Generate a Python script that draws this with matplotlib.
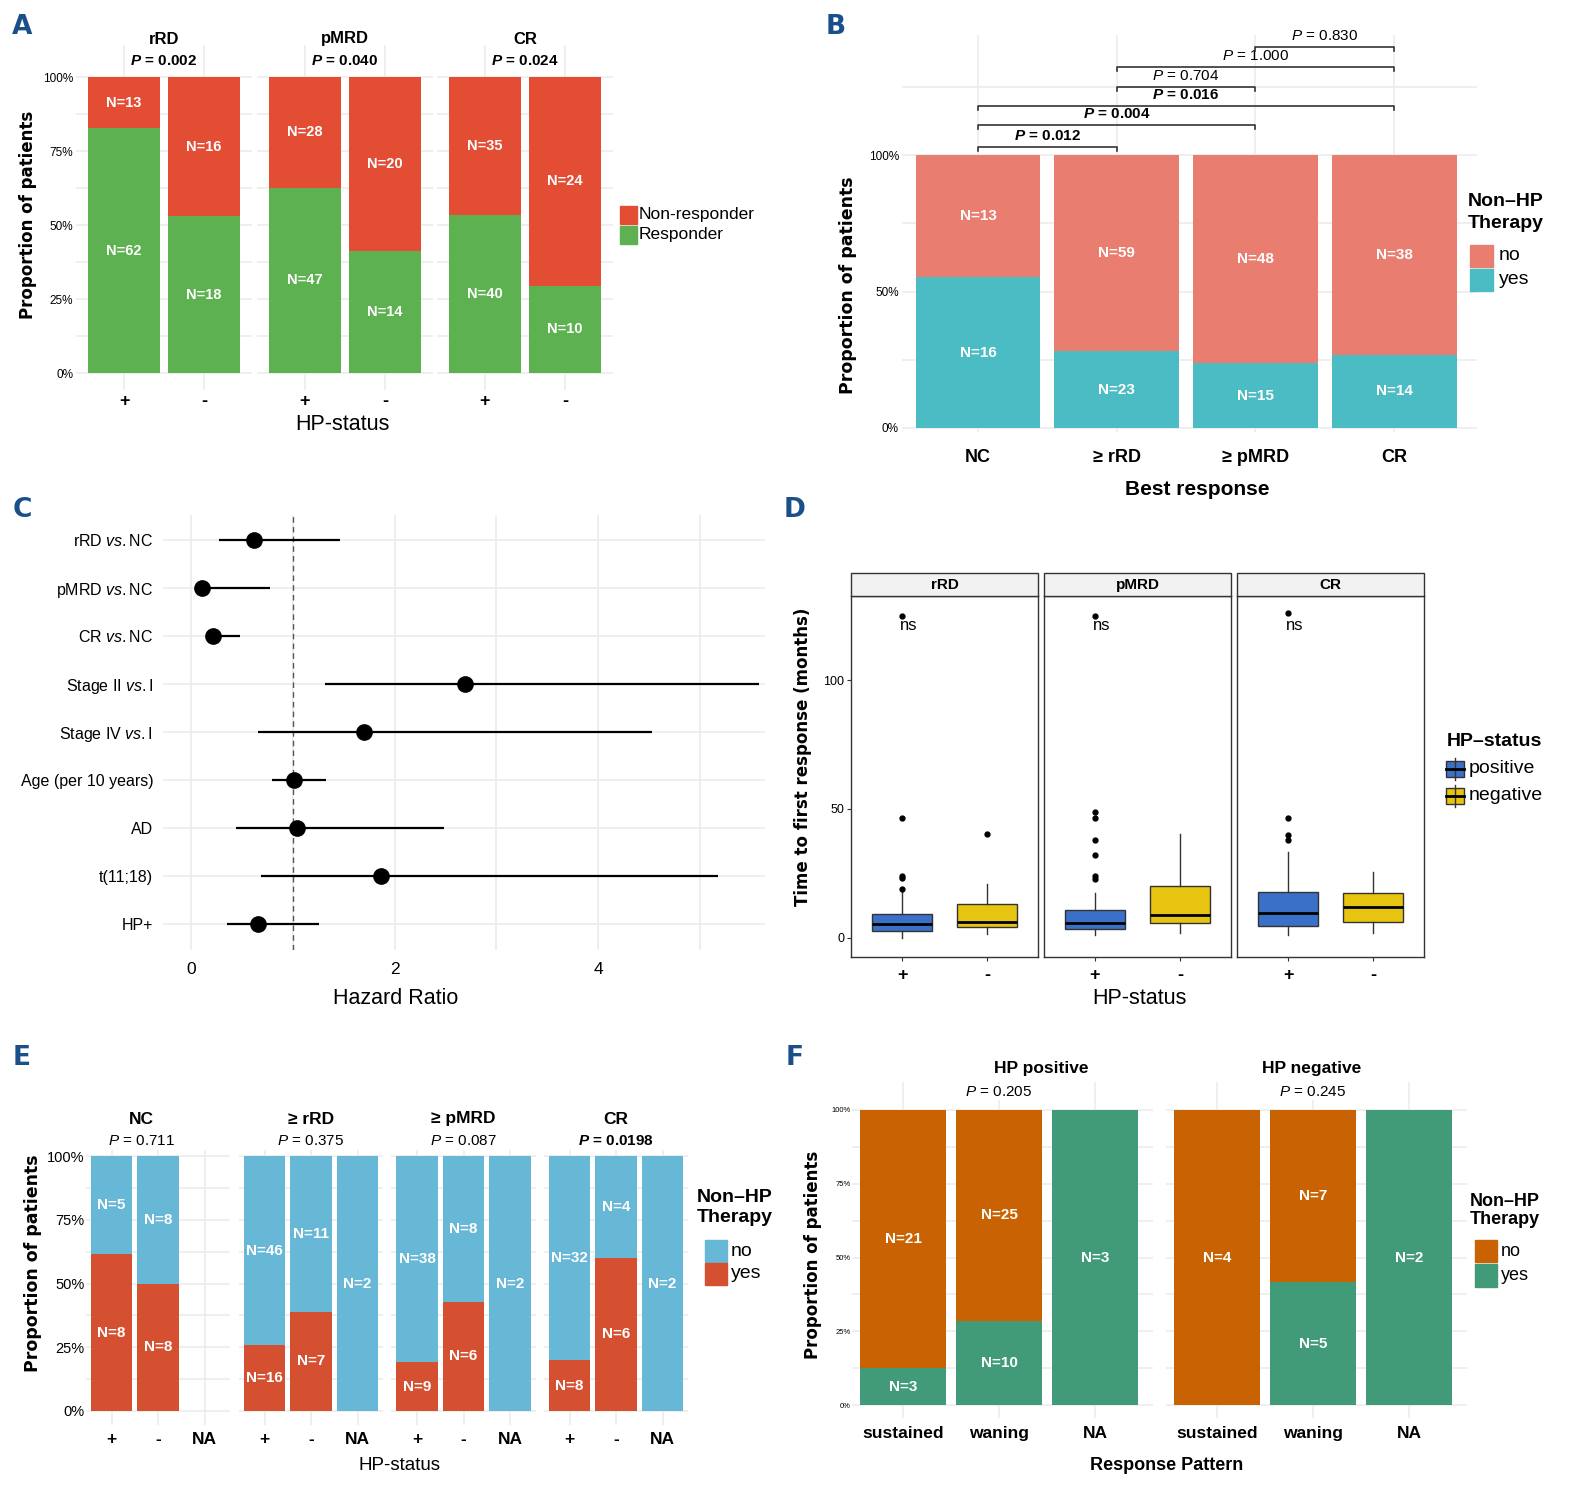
import matplotlib
matplotlib.use("Agg")
import matplotlib.pyplot as plt
from matplotlib import font_manager
from matplotlib.patches import Rectangle
from matplotlib.lines import Line2D

# ---- data ----
a_facets = ["rRD", "pMRD", "CR"]
a_pvals = ["0.002", "0.040", "0.024"]
a_status = ["+", "-"]
a_responder = [[62, 18], [47, 14], [40, 10]]
a_nonresponder = [[13, 16], [28, 20], [35, 24]]

b_cats = ["NC", "≥ rRD", "≥ pMRD", "CR"]
b_yes = [16, 23, 15, 14]
b_no = [13, 59, 48, 38]
b_pairs = [(0, 1), (0, 2), (0, 3), (1, 2), (1, 3), (2, 3)]
b_pvals = ["0.012", "0.004", "0.016", "0.704", "1.000", "0.830"]
b_sig = [True, True, True, False, False, False]

c_terms = ["rRD $\\mathit{vs.}$NC", "pMRD $\\mathit{vs.}$NC", "CR $\\mathit{vs.}$NC",
           "Stage II $\\mathit{vs.}$I", "Stage IV $\\mathit{vs.}$I", "Age (per 10 years)",
           "AD", "t(11;18)", "HP+"]
c_hr = [0.62, 0.11, 0.22, 2.69, 1.70, 1.01, 1.04, 1.87, 0.66]
c_lo = [0.275, 0.04, 0.16, 1.32, 0.66, 0.80, 0.44, 0.69, 0.35]
c_hi = [1.465, 0.78, 0.48, 5.58, 4.53, 1.33, 2.49, 5.18, 1.26]

d_facets = ["rRD", "pMRD", "CR"]
d_status = ["+", "-"]
d_q1 = [[2.6, 4.1], [3.2, 5.6], [4.5, 6.1]]
d_med = [[5.2, 6.2], [5.8, 8.8], [9.7, 12.0]]
d_q3 = [[9.2, 13.2], [10.7, 19.9], [17.7, 17.2]]
d_wlo = [[0.0, 1.3], [1.0, 1.9], [1.0, 1.9]]
d_whi = [[17.6, 20.8], [17.3, 40.4], [33.3, 25.3]]
d_out = [[[18.9, 23.3, 24.0, 46.5, 125], [40.4]],
         [[22.7, 24.0, 32.2, 38.0, 46.5, 48.6, 125], []],
         [[38.0, 39.8, 46.5, 126], []]]

e_facets = ["NC", "≥ rRD", "≥ pMRD", "CR"]
e_pvals = ["0.711", "0.375", "0.087", "0.0198"]
e_sig = [False, False, False, True]
e_status = ["+", "-", "NA"]
e_yes = [[8, 8, 0], [16, 7, 0], [9, 6, 0], [8, 6, 0]]
e_no = [[5, 8, 0], [46, 11, 2], [38, 8, 2], [32, 4, 2]]

f_facets = ["HP positive", "HP negative"]
f_pvals = ["0.205", "0.245"]
f_patterns = ["sustained", "waning", "NA"]
f_yes = [[3, 10, 3], [0, 5, 2]]
f_no = [[21, 25, 0], [4, 7, 0]]

# ---- style ----
names = {f.name for f in font_manager.fontManager.ttflist}
fam = "Liberation Sans Narrow" if "Liberation Sans Narrow" in names else "Liberation Sans"
plt.rcParams["font.family"] = [fam, "DejaVu Sans"]
plt.rcParams["mathtext.fontset"] = "custom"
plt.rcParams["mathtext.rm"] = fam
plt.rcParams["mathtext.it"] = fam + ":italic"
plt.rcParams["mathtext.bf"] = fam + ":bold"
plt.rcParams["mathtext.bfit"] = fam + ":italic:bold"

GRID = "#EBEBEB"
LETTER = "#1B4F8A"
A_GREEN, A_RED = "#5EB151", "#E34D34"
B_SALMON, B_TEAL = "#E97D70", "#4CBCC4"
D_BLUE, D_YELLOW = "#3A70C8", "#E6C40F"
E_BLUE, E_RED = "#67B7D6", "#D55030"
F_ORANGE, F_GREEN = "#C96203", "#419B78"

W, H = 1575, 1494
fig = plt.figure(figsize=(W / 100, H / 100), dpi=100)


def fx(x):
    return x / W


def fy(y):
    return 1 - y / H


def add_ax(x0, y0, x1, y1):
    return fig.add_axes([fx(x0), fy(y1), (x1 - x0) / W, (y1 - y0) / H])


def ftext(x, y, s, **kw):
    kw.setdefault("ha", "center")
    kw.setdefault("va", "center")
    return fig.text(fx(x), fy(y), s, **kw)


def frect(x0, y0, x1, y1, **kw):
    fig.add_artist(Rectangle((fx(x0), fy(y1)), (x1 - x0) / W, (y1 - y0) / H,
                             transform=fig.transFigure, **kw))


def fline(x0, y0, x1, y1, **kw):
    fig.add_artist(Line2D([fx(x0), fx(x1)], [fy(y0), fy(y1)], transform=fig.transFigure, **kw))


def pstr(val, bold):
    if bold:
        return "$\\mathbfit{P}$ = " + val, "bold"
    return "$\\mathit{P}$ = " + val, "normal"


def bar_facet(c0, step, top, bot, zero, full, xlo, xhi):
    ax = add_ax(c0 + xlo * step, top, c0 + xhi * step, bot)
    sc = zero - full
    ax.set_xlim(xlo, xhi)
    ax.set_ylim(-(bot - zero) / sc, 1 + (full - top) / sc)
    for s in ax.spines.values():
        s.set_visible(False)
    ax.tick_params(length=0)
    ax.set_facecolor("none")
    return ax


def grid(ax, levels, n):
    x0, x1 = ax.get_xlim()
    y0, y1 = ax.get_ylim()
    ax.hlines(levels, x0, x1, color=GRID, lw=1.1, zorder=0)
    ax.vlines(range(n), y0, y1, color=GRID, lw=1.1, zorder=0)


def stack(ax, lower, upper, c_low, c_up, fs):
    for i, (l, u) in enumerate(zip(lower, upper)):
        t = l + u
        if t == 0:
            continue
        fl, fu = l / t, u / t
        ax.bar(i, fl, 0.9, color=c_low, zorder=2)
        ax.bar(i, fu, 0.9, bottom=fl, color=c_up, zorder=2)
        if l:
            ax.text(i, fl / 2, f"N={l}", color="white", fontweight="bold",
                    fontsize=fs, ha="center", va="center", zorder=3)
        if u:
            ax.text(i, fl + fu / 2, f"N={u}", color="white", fontweight="bold",
                    fontsize=fs, ha="center", va="center", zorder=3)


eighths = [i / 8 for i in range(9)]

# ---- panel letters ----
for lab, x, y in [("A", 22, 27), ("B", 836, 27), ("C", 22, 510),
                  ("D", 795, 510), ("E", 22, 1058), ("F", 795, 1058)]:
    ftext(x, y, lab, fontsize=19, fontweight="bold", color=LETTER, family="DejaVu Sans")

# ---- A ----
for k, c0 in enumerate([124, 305, 485]):
    ax = bar_facet(c0, 80, 45, 390, 373, 77, -0.6, 1.6)
    grid(ax, eighths, 2)
    stack(ax, a_responder[k], a_nonresponder[k], A_GREEN, A_RED, 10.5)
    ax.set_xticks(range(2), a_status, fontweight="bold", fontsize=13)
    ax.tick_params(axis="x", pad=2)
    if k == 0:
        ax.set_yticks([0, .25, .5, .75, 1], ["0%", "25%", "50%", "75%", "100%"], fontsize=8.5)
        ax.tick_params(axis="y", pad=2)
    else:
        ax.set_yticks([])
    ftext(c0 + 40, 39, a_facets[k], fontsize=12, fontweight="bold")
    s, w = pstr(a_pvals[k], True)
    ftext(c0 + 40, 61, s, fontsize=11, fontweight=w)
ftext(28, 215, "Proportion of patients", rotation=90, fontsize=12, fontweight="bold", family="DejaVu Sans")
ftext(342, 425, "HP-status", fontsize=15.5)
frect(620, 206, 637, 224, color=A_RED)
frect(620, 226, 637, 244, color=A_GREEN)
ftext(639, 215, "Non-responder", ha="left", fontsize=12.5)
ftext(639, 235, "Responder", ha="left", fontsize=12.5)

# ---- B ----
ax = bar_facet(978, 138.7, 35, 432, 428, 155, -0.55, 3.6)
ax.set_ylim(-4 / 273, 393 / 273)
grid(ax, [0, .25, .5, .75, 1, 1.25], 4)
stack(ax, b_yes, b_no, B_TEAL, B_SALMON, 11)
b_levels = [1.029, 1.110, 1.179, 1.249, 1.322, 1.396]
for (i, j), p, sig, lvl in zip(b_pairs, b_pvals, b_sig, b_levels):
    ax.plot([i, i, j, j], [lvl - 0.014, lvl, lvl, lvl - 0.014], color="#333333", lw=1.2,
            clip_on=False, zorder=3)
    s, w = pstr(p, sig)
    ax.text((i + j) / 2, lvl + 0.04, s, fontsize=11, fontweight=w, ha="center", va="center")
ax.set_xticks(range(4), b_cats, fontweight="bold", fontsize=13)
ax.tick_params(axis="x", pad=12)
ax.set_yticks([0, .5, 1], ["0%", "50%", "100%"], fontsize=8.5)
ax.tick_params(axis="y", pad=2)
ftext(848, 285, "Proportion of patients", rotation=90, fontsize=12.5, fontweight="bold", family="DejaVu Sans")
ftext(1197, 489, "Best response", fontsize=15, fontweight="bold")
ftext(1468, 202, "Non–HP", ha="left", fontsize=14, fontweight="bold")
ftext(1468, 224, "Therapy", ha="left", fontsize=14, fontweight="bold")
frect(1470, 245, 1493, 267, color=B_SALMON)
frect(1470, 269, 1493, 291, color=B_TEAL)
ftext(1499, 256, "no", ha="left", fontsize=14)
ftext(1499, 279, "yes", ha="left", fontsize=14)

# ---- C ----
ax = add_ax(163, 515, 765, 950)
ax.set_xlim(-0.275, 5.64)
ax.set_ylim(0.458, 9.52)
for s in ax.spines.values():
    s.set_visible(False)
yv = [9 - i for i in range(len(c_terms))]
ax.vlines(range(6), 0.458, 9.52, color=GRID, lw=1.2, zorder=0)
ax.hlines(yv, -0.275, 5.64, color=GRID, lw=1.2, zorder=0)
ax.axvline(1, color="#555555", ls=(0, (4, 3)), lw=1, zorder=1)
ax.hlines(yv, c_lo, c_hi, color="black", lw=1.6, zorder=3)
ax.plot(c_hr, yv, "o", ms=11, color="black", zorder=4)
ax.set_yticks(yv, c_terms, fontsize=11.5)
ax.set_xticks([0, 2, 4], ["0", "2", "4"], fontsize=12.5)
ax.tick_params(length=0)
ax.tick_params(axis="y", pad=7)
ax.tick_params(axis="x", pad=9)
ftext(396, 998, "Hazard Ratio", fontsize=15.5)

# ---- D ----
for k, px in enumerate([851, 1044, 1237]):
    ax = add_ax(px, 596, px + 187, 957)
    ax.set_xlim(0.4, 2.6)
    ax.set_ylim(-7.5, 132.6)
    for s in ax.spines.values():
        s.set_color("#333333")
        s.set_linewidth(1)
    frect(px, 573, px + 187, 596, facecolor="#F2F2F2", edgecolor="#333333", lw=1)
    ftext(px + 93.5, 585, d_facets[k], fontsize=11, fontweight="bold")
    stats = []
    for j in range(2):
        stats.append(dict(med=d_med[k][j], q1=d_q1[k][j], q3=d_q3[k][j],
                          whislo=d_wlo[k][j], whishi=d_whi[k][j], fliers=d_out[k][j]))
    res = ax.bxp(stats, positions=[1, 2], widths=0.7, patch_artist=True, showcaps=False,
                 boxprops=dict(edgecolor="#333333", lw=1),
                 medianprops=dict(color="black", lw=2),
                 whiskerprops=dict(color="#333333", lw=1),
                 flierprops=dict(marker="o", ms=3.5, mfc="black", mec="black"))
    res["boxes"][0].set_facecolor(D_BLUE)
    res["boxes"][1].set_facecolor(D_YELLOW)
    ax.text(1.08, 121, "ns", fontsize=12, ha="center", va="center")
    ax.set_xticks([1, 2], d_status, fontweight="bold", fontsize=13)
    ax.tick_params(axis="x", length=3, color="#333333", pad=4)
    if k == 0:
        ax.set_yticks([0, 50, 100], ["0", "50", "100"], fontsize=9)
        ax.tick_params(axis="y", length=3, color="#333333", pad=2)
    else:
        ax.set_yticks([])
ftext(803, 757, "Time to first response (months)", rotation=90, fontsize=12,
      fontweight="bold", family="DejaVu Sans")
ftext(1139, 999, "HP-status", fontsize=15.5)
ftext(1494, 742, "HP–status", fontsize=14, fontweight="bold")
for yc, col, lab in [(769, D_BLUE, "positive"), (796, D_YELLOW, "negative")]:
    fline(1455, yc - 11, 1455, yc + 11, color="#333333", lw=1)
    frect(1446, yc - 8, 1464, yc + 8, facecolor=col, edgecolor="#333333", lw=1)
    fline(1446, yc, 1464, yc, color="black", lw=2)
    ftext(1469, yc, lab, ha="left", fontsize=14)

# ---- E ----
for k, c0 in enumerate([111.5, 264.5, 417, 569.5]):
    ax = bar_facet(c0, 46.5, 1150, 1425, 1411, 1156, -0.55, 2.55)
    grid(ax, eighths, 3)
    stack(ax, e_yes[k], e_no[k], E_RED, E_BLUE, 11)
    ax.set_xticks(range(3), e_status, fontweight="bold", fontsize=12.5)
    ax.tick_params(axis="x", pad=5)
    if k == 0:
        ax.set_yticks([0, .25, .5, .75, 1], ["0%", "25%", "50%", "75%", "100%"], fontsize=10.5)
        ax.tick_params(axis="y", pad=1)
    else:
        ax.set_yticks([])
    cx = c0 + (0.65 if k == 0 else 1) * 46.5
    ftext(cx, 1119, e_facets[k], fontsize=12.5, fontweight="bold")
    s, w = pstr(e_pvals[k], e_sig[k])
    ftext(cx, 1141, s, fontsize=11, fontweight=w)
ftext(33, 1263, "Proportion of patients", rotation=90, fontsize=12.5, fontweight="bold", family="DejaVu Sans")
ftext(400, 1466, "HP-status", fontsize=13.5)
ftext(697, 1197, "Non–HP", ha="left", fontsize=14, fontweight="bold")
ftext(697, 1217, "Therapy", ha="left", fontsize=14, fontweight="bold")
frect(705, 1240, 727, 1262, color=E_BLUE)
frect(705, 1263, 727, 1285, color=E_RED)
ftext(731, 1251, "no", ha="left", fontsize=14)
ftext(731, 1274, "yes", ha="left", fontsize=14)

# ---- F ----
f_title_x = [1041, 1312]
for k, c0 in enumerate([903, 1217]):
    ax = bar_facet(c0, 96, 1082, 1418, 1405, 1110, -0.53, 2.6)
    grid(ax, eighths, 3)
    stack(ax, f_yes[k], f_no[k], F_GREEN, F_ORANGE, 11)
    ax.set_xticks(range(3), f_patterns, fontweight="bold", fontsize=12.5)
    ax.tick_params(axis="x", pad=6)
    if k == 0:
        ax.set_yticks([0, .25, .5, .75, 1], ["0%", "25%", "50%", "75%", "100%"], fontsize=5.5)
        ax.tick_params(axis="y", pad=1)
    else:
        ax.set_yticks([])
    ftext(f_title_x[k], 1068, f_facets[k], fontsize=12.5, fontweight="bold")
    s, w = pstr(f_pvals[k], False)
    ftext(c0 + 96, 1092, s, fontsize=11, fontweight=w,
          bbox=dict(facecolor="white", edgecolor="none", pad=1))
ftext(813, 1255, "Proportion of patients", rotation=90, fontsize=12, fontweight="bold", family="DejaVu Sans")
ftext(1167, 1466, "Response Pattern", fontsize=13, fontweight="bold")
ftext(1470, 1201, "Non–HP", ha="left", fontsize=13, fontweight="bold")
ftext(1470, 1220, "Therapy", ha="left", fontsize=13, fontweight="bold")
frect(1475, 1240, 1497, 1262, color=F_ORANGE)
frect(1475, 1264, 1497, 1287, color=F_GREEN)
ftext(1501, 1251, "no", ha="left", fontsize=13)
ftext(1501, 1275, "yes", ha="left", fontsize=13)

fig.savefig("out.png", dpi=100)
